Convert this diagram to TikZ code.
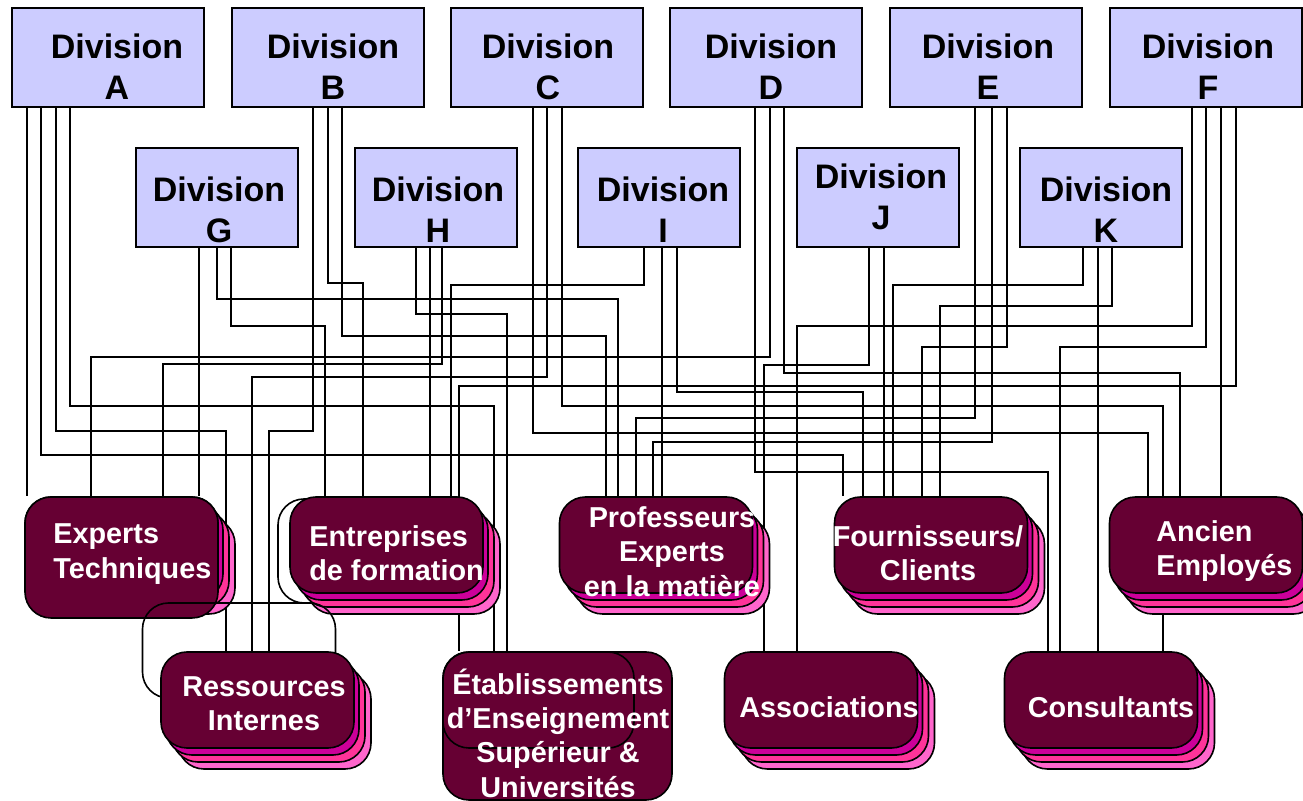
\documentclass[tikz,border=0pt]{standalone}
\usepackage{fontspec}
\setmainfont{Liberation Sans}
\usepackage{tikz}
\usetikzlibrary{shapes,positioning,shadows,backgrounds}
\usepackage{xcolor}
\definecolor{divfill}{RGB}{204,204,255}
\definecolor{grpmaroon}{RGB}{102,0,51}
\definecolor{grppink1}{RGB}{204,0,153}
\definecolor{grppink2}{RGB}{255,51,153}
\definecolor{grppink3}{RGB}{255,102,204}
\tikzstyle{division} = [rectangle, draw=black, fill=divfill, line width=0.9pt, minimum height=49.5pt]
\tikzstyle{divtext} = [font=\fontsize{17}{20.5}\selectfont\bfseries, align=center, inner sep=0pt]
\tikzstyle{group} = [rectangle, rounded corners=13pt, draw=black, fill=grpmaroon, line width=0.8pt, minimum width=96.5pt, minimum height=48pt]
\tikzstyle{stack} = [copy shadow={shadow xshift=8.5pt, shadow yshift=-10.5pt, fill=grppink3, draw=black},
                     copy shadow={shadow xshift=5.5pt, shadow yshift=-7pt, fill=grppink2, draw=black},
                     copy shadow={shadow xshift=2.5pt, shadow yshift=-3.5pt, fill=grppink1, draw=black}]
\tikzstyle{ghost} = [rectangle, rounded corners=13pt, draw=black, line width=0.8pt, minimum width=96.5pt]
\tikzstyle{grptext} = [font=\fontsize{14.4}{17.2}\selectfont\bfseries, text=white, align=center, inner sep=0pt]
\tikzstyle{wire} = [line width=0.8pt, black]

\begin{document}
\begin{tikzpicture}[x=0.5pt, y=-0.5pt]
\useasboundingbox (0,0) rectangle (1303,801);

% Division nodes, upper row
\node (divA) [division, minimum width=96pt] at (108,57.5) {};
\node (divB) [division, minimum width=96pt] at (328,57.5) {};
\node (divC) [division, minimum width=96pt] at (547,57.5) {};
\node (divD) [division, minimum width=96pt] at (766,57.5) {};
\node (divE) [division, minimum width=96pt] at (986,57.5) {};
\node (divF) [division, minimum width=96pt] at (1206,57.5) {};
% Division nodes, lower row
\node (divG) [division, minimum width=81pt] at (217,197.5) {};
\node (divH) [division, minimum width=81pt] at (436,197.5) {};
\node (divI) [division, minimum width=81pt] at (659,197.5) {};
\node (divJ) [division, minimum width=81pt] at (878,197.5) {};
\node (divK) [division, minimum width=81pt] at (1101,197.5) {};

\node (divAt) [divtext] at (117,66.5) {Division\\A};
\node (divBt) [divtext] at (333,66.5) {Division\\B};
\node (divCt) [divtext] at (548,66.5) {Division\\C};
\node (divDt) [divtext] at (771,66.5) {Division\\D};
\node (divEt) [divtext] at (988,66.5) {Division\\E};
\node (divFt) [divtext] at (1208,66.5) {Division\\F};
\node (divGt) [divtext] at (219,210) {Division\\G};
\node (divHt) [divtext] at (438,210) {Division\\H};
\node (divIt) [divtext] at (663,210) {Division\\I};
\node (divJt) [divtext] at (881,197) {Division\\J};
\node (divKt) [divtext] at (1106,210) {Division\\K};

% Groups, upper row
\node (expertsS) [group, stack] at (121.5,545) {};
\node (experts) [group, minimum height=60.5pt] at (121.5,557.5) {};
\node (entrGhost) [ghost, minimum height=52pt] at (374.5,551) {};
\node (entreprises) [group, stack] at (386.5,545) {};
\node (profs) [group, stack] at (656,545) {};
\node (fourn) [group, stack] at (931,545) {};
\node (ancien) [group, stack] at (1206,545) {};
% Groups, lower row
\node (ressGhost) [ghost, minimum height=47.5pt] at (239,650.5) {};
\node (ressources) [group, stack] at (257.5,700) {};
\node (etabl) [group, minimum width=114.5pt, minimum height=74pt] at (557.5,726) {};
\node (etablEdge) [ghost, minimum width=95.5pt, minimum height=48pt] at (538.5,700) {};
\node (assoc) [group, stack] at (821,700) {};
\node (consult) [group, stack] at (1101,700) {};

% Group labels
\node (expertsT) [grptext, align=left, anchor=west] at (53,554) {Experts\\Techniques};
\node (entrT) [grptext, align=left, anchor=west] at (309,553) {Entreprises\\de formation};
\node (profsT) [grptext] at (672,551.5) {Professeurs\\Experts\\en la matière};
\node (fournT) [grptext] at (928,553) {Fournisseurs/\\Clients};
\node (ancienT) [grptext, align=left, anchor=west] at (1156,551) {Ancien\\Employés};
\node (ressT) [grptext] at (264,704) {Ressources\\Internes};
\node (etablT) [grptext] at (558,733) {Établissements\\d’Enseignement\\Supérieur \&\\Universités};
\node (assocT) [grptext] at (829,707) {Associations};
\node (consultT) [grptext] at (1111,707) {Consultants};

% Links
\begin{scope}[on background layer]
\draw[wire] (27,0 |- divA.south) -- (27,0 |- experts.north);
\draw[wire] (41,0 |- divA.south) |- (843,455) -- (843,0 |- fourn.north);
\draw[wire] (56,0 |- divA.south) |- (226,431) -- (226,0 |- ressources.north);
\draw[wire] (70,0 |- divA.south) |- (494,406) -- (494,0 |- etabl.north);
\draw[wire] (313,0 |- divB.south) |- (269,431) -- (269,0 |- ressources.north);
\draw[wire] (328,0 |- divB.south) |- (363,283) -- (363,0 |- entreprises.north);
\draw[wire] (342,0 |- divB.south) |- (606,336) -- (606,0 |- profs.north);
\draw[wire] (533,0 |- divC.south) |- (1148,433) -- (1148,0 |- ancien.north);
\draw[wire] (547,0 |- divC.south) |- (252,377) -- (252,0 |- ressources.north);
\draw[wire] (562,0 |- divC.south) |- (1163,406) -- (1163,0 |- consult.north);
\draw[wire] (755,0 |- divD.south) |- (1048,472) -- (1048,0 |- consult.north);
\draw[wire] (770,0 |- divD.south) |- (91,357) -- (91,0 |- experts.north);
\draw[wire] (784,0 |- divD.south) |- (1180,373) -- (1180,0 |- ancien.north);
\draw[wire] (975,0 |- divE.south) |- (636,418) -- (636,0 |- profs.north);
\draw[wire] (992,0 |- divE.south) |- (653,442) -- (653,0 |- profs.north);
\draw[wire] (1007,0 |- divE.south) |- (922,347) -- (922,0 |- fourn.north);
\draw[wire] (1192,0 |- divF.south) |- (797,326) -- (797,0 |- assoc.north);
\draw[wire] (1206,0 |- divF.south) |- (1060,347) -- (1060,0 |- consult.north);
\draw[wire] (1221,0 |- divF.south) -- (1221,0 |- ancien.north);
\draw[wire] (1236,0 |- divF.south) |- (459,386) -- (459,0 |- etabl.north);
\draw[wire] (199,0 |- divG.south) -- (199,0 |- experts.north);
\draw[wire] (217,0 |- divG.south) |- (618,299) -- (618,0 |- profs.north);
\draw[wire] (231,0 |- divG.south) |- (325,326) -- (325,0 |- entreprises.north);
\draw[wire] (416,0 |- divH.south) |- (507,314) -- (507,0 |- etabl.north);
\draw[wire] (430,0 |- divH.south) -- (430,0 |- entreprises.north);
\draw[wire] (442,0 |- divH.south) |- (163,364) -- (163,0 |- experts.north);
\draw[wire] (644,0 |- divI.south) |- (451,285) -- (451,0 |- entreprises.north);
\draw[wire] (662,0 |- divI.south) -- (662,0 |- profs.north);
\draw[wire] (677,0 |- divI.south) |- (863,392) -- (863,0 |- fourn.north);
\draw[wire] (869,0 |- divJ.south) |- (764,365) -- (764,0 |- assoc.north);
\draw[wire] (884,0 |- divJ.south) -- (884,0 |- fourn.north);
\draw[wire] (1083,0 |- divK.south) |- (893,285) -- (893,0 |- fourn.north);
\draw[wire] (1098,0 |- divK.south) -- (1098,0 |- consult.north);
\draw[wire] (1112,0 |- divK.south) |- (940,306) -- (940,0 |- fourn.north);
\end{scope}
\end{tikzpicture}
\end{document}
